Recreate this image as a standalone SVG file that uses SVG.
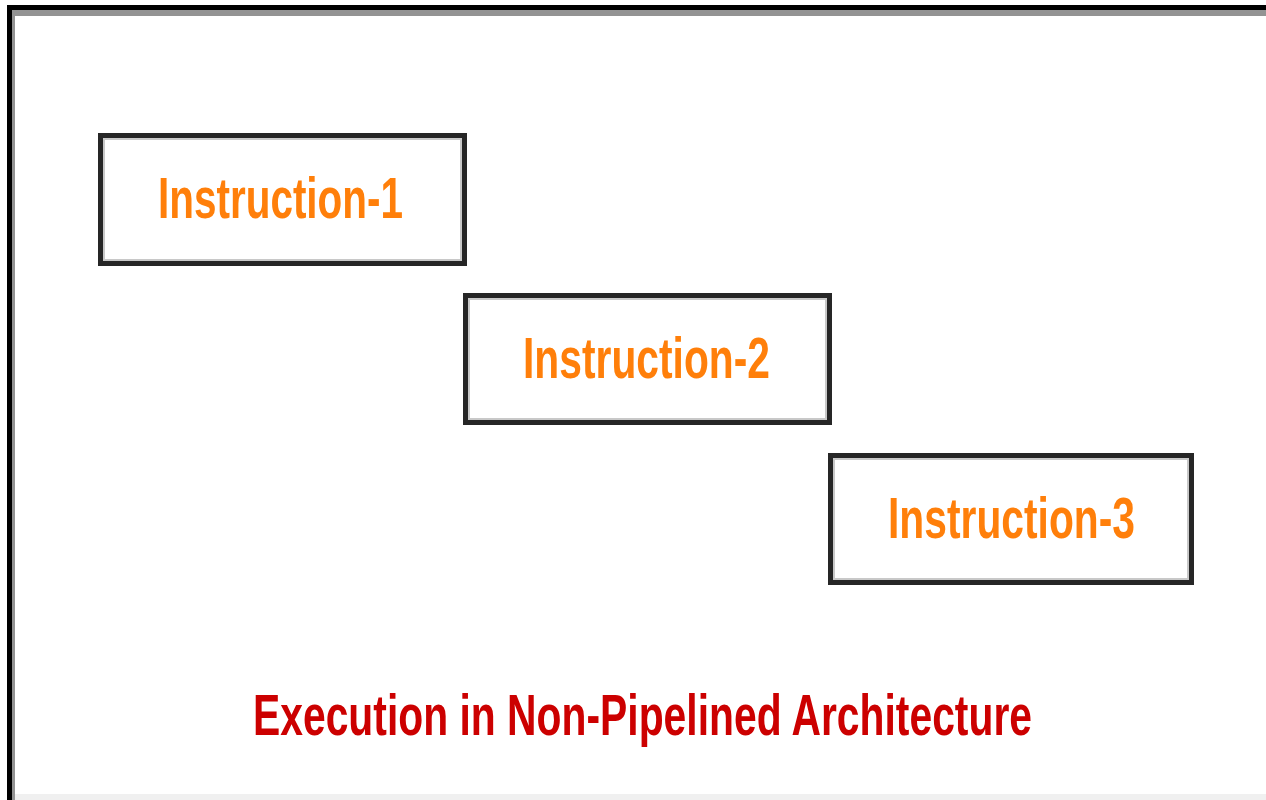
<svg xmlns="http://www.w3.org/2000/svg" width="1266" height="800" viewBox="0 0 1266 800">
<style>
.box{fill:#fff;stroke:#262626;stroke-width:5}
.inner{fill:none;stroke:#c8c8c8;stroke-width:2}
.lbl{font-family:"Liberation Sans",Arial,sans-serif;font-weight:bold;font-size:42px;fill:#ff7f0a}
.title{font-family:"Liberation Sans",Arial,sans-serif;font-weight:bold;font-size:42px;fill:#cc0000}
</style>
<rect x="0" y="0" width="1266" height="800" fill="#fff"/>
<rect x="7" y="794" width="1259" height="6" fill="#f0f0f0"/>
<g id="frame">
<rect x="12" y="10" width="1254" height="6" fill="#939393"/>
<rect x="12" y="10" width="3" height="790" fill="#939393"/>
<rect x="7" y="5" width="1259" height="5" fill="#000"/>
<rect x="7" y="5" width="5" height="795" fill="#000"/>
</g>
<g id="connectors"/>
<g id="instr1">
<rect class="box" x="100.5" y="135.5" width="364" height="128"/>
<rect class="inner" x="104" y="139" width="357" height="121"/>
<text class="lbl" transform="translate(158 218) scale(1 1.38)" x="0" y="0" textLength="245" lengthAdjust="spacingAndGlyphs">Instruction-1</text>
</g>
<g id="instr2">
<rect class="box" x="465.5" y="295.5" width="364" height="127"/>
<rect class="inner" x="469" y="299" width="357" height="120"/>
<text class="lbl" transform="translate(523 378) scale(1 1.38)" x="0" y="0" textLength="247" lengthAdjust="spacingAndGlyphs">Instruction-2</text>
</g>
<g id="instr3">
<rect class="box" x="830.5" y="455.5" width="361" height="127"/>
<rect class="inner" x="834" y="459" width="354" height="120"/>
<text class="lbl" transform="translate(888 538) scale(1 1.38)" x="0" y="0" textLength="247" lengthAdjust="spacingAndGlyphs">Instruction-3</text>
</g>
<g id="caption">
<text class="title" transform="translate(253 735) scale(1 1.38)" x="0" y="0" textLength="779" lengthAdjust="spacingAndGlyphs">Execution in Non-Pipelined Architecture</text>
</g>
</svg>
